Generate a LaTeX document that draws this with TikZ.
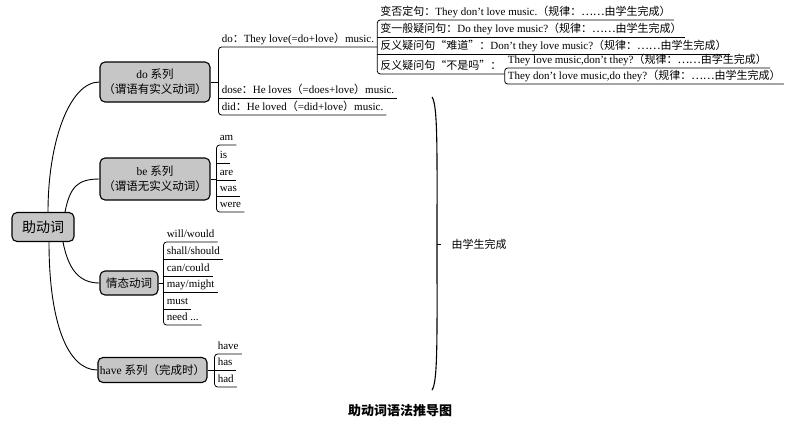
\documentclass[tikz,border=0pt]{standalone}
\usepackage{fontspec}
\setmainfont{Liberation Serif}
\newfontfamily\cjk{Noto Sans CJK SC}
\usetikzlibrary{positioning,calc}
\newcommand{\zh}[1]{{\cjk #1}}

\begin{document}
\begin{tikzpicture}[
    x=1pt, y=-1pt,
    topic/.style={draw, line width=1.1pt, rounded corners=5pt, fill=gray!45, align=center, inner sep=2pt, font=\fontsize{11.5}{15}\selectfont},
    leaf/.style={anchor=south west, inner xsep=3pt, inner ysep=1.5pt, text depth=2.5pt, font=\fontsize{11}{12}\selectfont},
    branch/.style={line width=0.8pt},
    bracket/.style={branch, rounded corners=3pt},
    curve/.style={line width=0.9pt}]

\useasboundingbox (0,0) rectangle (800,424);

% main topics
\node[topic, font=\fontsize{14}{16}\selectfont, minimum width=62pt, minimum height=29pt] (root) at (43,227) {\zh{助动词}};
\node[topic, minimum width=110pt, minimum height=40pt] (do) at (155,82) {do \zh{系列}\\\zh{（谓语有实义动词）}};
\node[topic, minimum width=110pt, minimum height=42pt] (be) at (155,179) {be \zh{系列}\\\zh{（谓语无实义动词）}};
\node[topic, minimum width=58pt, minimum height=24pt] (modal) at (129,283) {\zh{情态动词}};
\node[topic, minimum width=105pt, minimum height=25pt] (have) at (152.5,370) {have \zh{系列（完成时）}};

\draw[curve] ([xshift=5pt]root.north) .. controls +(0,-70) and +(-30,0) .. (do.west);
\draw[curve] ([xshift=22pt]root.north) .. controls +(5,-25) and +(-22,0) .. (be.west);
\draw[curve] ([xshift=20pt]root.south) .. controls +(5,25) and +(-22,0) .. (modal.west);
\draw[curve] ([xshift=6pt]root.south) .. controls +(0,80) and +(-30,0) .. (have.west);

% do
\node[leaf] (do1) at ([xshift=8pt,yshift=35pt]do.east) {do\zh{：}They love(=do+love\zh{）}music.};
\node[leaf] (do2) at ([yshift=-51pt]do1.south west) {dose\zh{：}He loves\zh{（}=does+love\zh{）}music.};
\node[leaf] (do3) at ([yshift=-17pt]do2.south west) {did\zh{：}He loved\zh{（}=did+love\zh{）}music.};
\draw[branch] (do.east) -- (do.east -| do1.south west);
\draw[bracket] (do1.south east) -- (do1.south west) -- (do3.south west) -- (do3.south east);
\draw[branch] (do2.south west) -- (do2.south east);

\node[leaf] (neg1) at ([yshift=27pt]do1.south east) {\zh{变否定句：}They don’t love music.\zh{（规律：……由学生完成）}};
\node[leaf] (neg2) at ([yshift=10pt]do1.south east) {\zh{变一般疑问句：}Do they love music?\zh{（规律：……由学生完成）}};
\node[leaf] (neg3) at ([yshift=-7pt]do1.south east) {\zh{反义疑问句“难道”：}Don’t they love music?\zh{（规律：……由学生完成）}};
\node[leaf] (neg4) at ([yshift=-27pt]do1.south east) {\zh{反义疑问句“不是吗”：}};
\draw[bracket] (neg1.south east) -- (neg1.south west) -- (neg4.south west) -- (neg4.south east);
\draw[branch] (neg2.south west) -- (neg2.south east) (neg3.south west) -- (neg3.south east);

\node[leaf] (ask1) at ([yshift=6pt]neg4.south east) {They love music,don’t they?\zh{（规律：……由学生完成）}};
\node[leaf] (ask2) at ([yshift=-10pt]neg4.south east) {They don’t love music,do they?\zh{（规律：……由学生完成）}};
\draw[bracket] (ask1.south east) -- (ask1.south west) -- (ask2.south west) -- (ask2.south east);

% be
\node[leaf] (am) at ([xshift=6pt,yshift=34pt]be.east) {am};
\node[leaf] (is) at ([yshift=-18pt]am.south west) {is};
\node[leaf] (are) at ([yshift=-17pt]is.south west) {are};
\node[leaf] (was) at ([yshift=-16pt]are.south west) {was};
\node[leaf] (were) at ([yshift=-16pt]was.south west) {were};
\draw[branch] (be.east) -- (be.east -| am.south west);
\draw[bracket] (am.south east) -- (am.south west) -- (were.south west) -- (were.south east);
\foreach \n in {is,are,was}
    \draw[branch] (\n.south west) -- (\n.south east);

% modal
\node[leaf] (will) at ([xshift=5pt,yshift=41pt]modal.east) {will/would};
\node[leaf] (shall) at ([yshift=-17pt]will.south west) {shall/should};
\node[leaf] (can) at ([yshift=-17pt]shall.south west) {can/could};
\node[leaf] (may) at ([yshift=-16pt]can.south west) {may/might};
\node[leaf] (must) at ([yshift=-17pt]may.south west) {must};
\node[leaf] (need) at ([yshift=-16pt]must.south west) {need ...};
\draw[branch] (modal.east) -- (modal.east -| will.south west);
\draw[bracket] (will.south east) -- (will.south west) -- (need.south west) -- (need.south east);
\foreach \n in {shall,can,may,must}
    \draw[branch] (\n.south west) -- (\n.south east);

% have
\node[leaf] (hv1) at ([xshift=7pt,yshift=16pt]have.east) {have};
\node[leaf] (hv2) at ([yshift=-16pt]hv1.south west) {has};
\node[leaf] (hv3) at ([yshift=-17pt]hv2.south west) {had};
\draw[branch] (have.east) -- (have.east -| hv1.south west);
\draw[bracket] (hv1.south east) -- (hv1.south west) -- (hv3.south west) -- (hv3.south east);
\draw[branch] (hv2.south west) -- (hv2.south east);

% summary brace
\coordinate (sumtop) at (432,97);
\coordinate (sumbot) at (432,390);
\coordinate (sumtip) at (437,244);
\coordinate (sumtick) at (441,244);
\draw[line width=1.1pt] (sumtop) .. controls +(6,8) and +(0,-90) .. (sumtip) .. controls +(0,90) and +(6,-8) .. (sumbot);
\draw[branch] (sumtip) -- (sumtick);
\node[anchor=west, font=\fontsize{11}{13}\selectfont] (summary) at (448,244) {\zh{由学生完成}};

\node[font=\fontsize{13}{15}\selectfont\bfseries] (title) at (400,411) {\zh{助动词语法推导图}};

\end{tikzpicture}
\end{document}
